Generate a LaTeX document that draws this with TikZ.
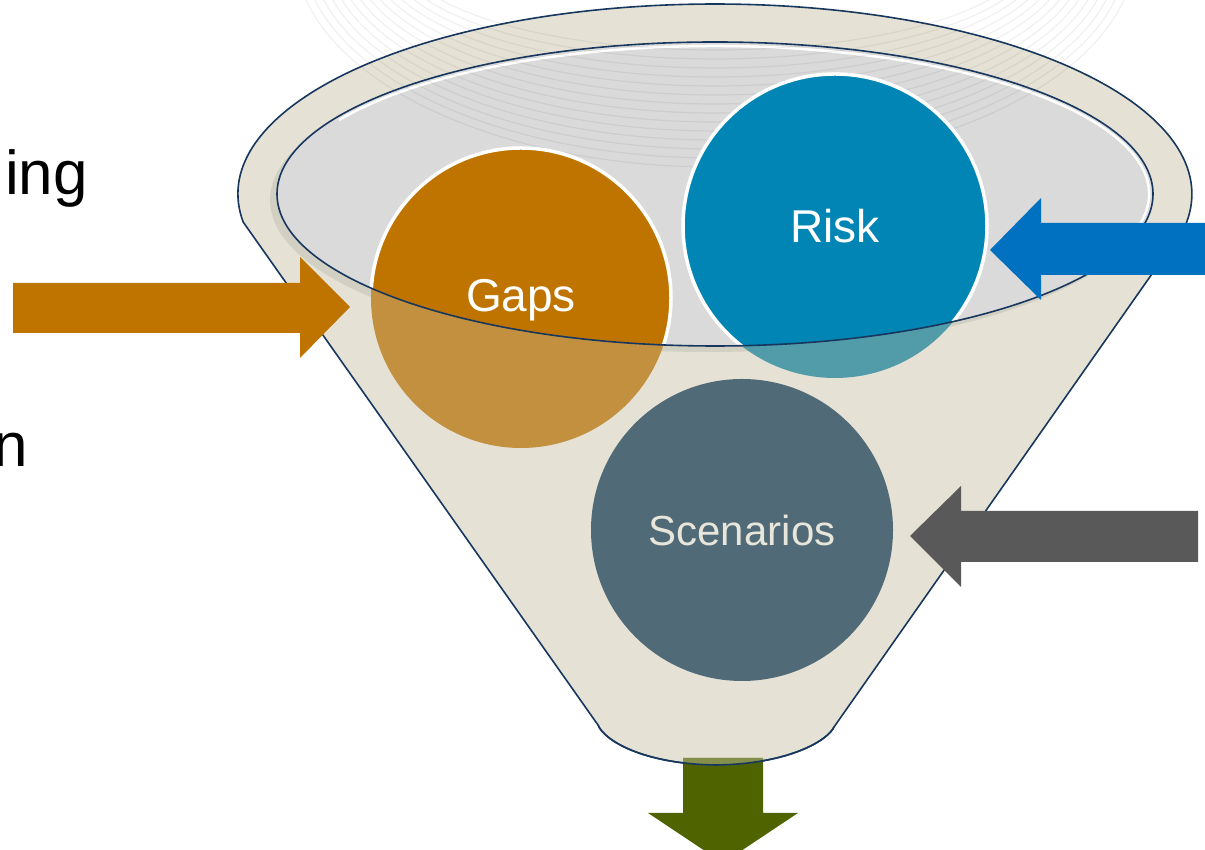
\documentclass[tikz,border=0pt]{standalone}
\usepackage{fontspec}
\setmainfont{Liberation Sans}
\definecolor{navy}{HTML}{17375E}
\definecolor{beige}{HTML}{E5E2D5}
\definecolor{shadowc}{HTML}{D2D0C3}
\definecolor{graybowl}{HTML}{DADADA}
\definecolor{gapsc}{HTML}{C07400}
\definecolor{gapsl}{HTML}{C2903F}
\definecolor{riskc}{HTML}{0085B4}
\definecolor{riskl}{HTML}{529CA9}
\definecolor{scenc}{HTML}{506A78}
\definecolor{scentext}{HTML}{E8E6DA}
\definecolor{bluearrow}{HTML}{0070C0}
\definecolor{grayarrow}{HTML}{595959}
\definecolor{greenarrow}{HTML}{4F6300}
\tikzset{
  funnelshape/.style={insert path={(243.2,627.9) arc[start angle=188.5, end angle=-10.3, x radius=477, y radius=190]
     -- (834,123) .. controls (828,110) and (790,86) .. (716,85) .. controls (642,86) and (604,110) .. (598,125) -- cycle}},
  bowlshape/.style={insert path={(715,656) ellipse[x radius=438, y radius=152]}},
  outline/.style={draw=navy, line width=1.6pt},
  circtext/.style={text=white, font=\fontsize{46}{50}\selectfont, inner sep=0pt},
  sidetext/.style={text=black, font=\fontsize{62}{66}\selectfont, inner sep=0pt, anchor=base east},
  faint/.style={draw=black, draw opacity=0.06, line width=1.2pt}
}
\begin{document}
\begin{tikzpicture}[x=1pt,y=1pt]
\useasboundingbox (0,0) rectangle (1205,850);
% faint background curves on white
\foreach \i in {0,...,13}{
  \draw[faint] (715,900) ++(180:{420-8*\i} and {217-9*\i}) arc[start angle=180, end angle=360, x radius={420-8*\i}, y radius={217-9*\i}];
}
% funnel body
\path[fill=beige, funnelshape];
% shadow of the opening
\fill[shadowc] (708,650) ellipse[x radius=438, y radius=152];
% opening
\path[fill=graybowl, bowlshape];
\draw[white, line width=2.5pt] (715,656) ++(-18:434 and 148) arc[start angle=-18, end angle=150, x radius=434, y radius=148];
% faint curves over the funnel
\begin{scope}
\path[clip, funnelshape];
\foreach \i in {0,...,13}{
  \draw[faint] (715,900) ++(180:{420-8*\i} and {217-9*\i}) arc[start angle=180, end angle=360, x radius={420-8*\i}, y radius={217-9*\i}];
}
\end{scope}
% circles
\fill[gapsl] (521,552) circle[radius=150];
\fill[riskl] (835,624) circle[radius=152];
\begin{scope}
\path[clip, bowlshape];
\fill[gapsc, draw=white, line width=3.5pt] (521,552) circle[radius=150];
\fill[riskc, draw=white, line width=3.5pt] (835,624) circle[radius=152];
\end{scope}
\fill[scenc] (742,320) circle[radius=151];
% outlines
\path[outline, funnelshape];
\path[outline, bowlshape];
% labels
\node[circtext] (gaps) at (521,550) {Gaps};
\node[circtext] (risk) at (835,624) {Risk};
\node[circtext, text=scentext, font=\fontsize{42}{46}\selectfont] (scen) at (742,320) {Scenarios};
\node[sidetext] (ing) at (88,655) {ing};
\node[sidetext] (nn) at (28,383) {n};
% arrows
\fill[gapsc] (13,567) -- (300,567) -- (300,593) -- (350,543) -- (300,492) -- (300,517) -- (13,517) -- cycle;
\fill[bluearrow] (1210,627) -- (1041,627) -- (1041,652) -- (990,600) -- (1041,550) -- (1041,575) -- (1210,575) -- cycle;
\fill[grayarrow] (1198,339) -- (961,339) -- (961,364) -- (910,314) -- (961,263) -- (961,288) -- (1198,288) -- cycle;
\fill[greenarrow] (683,92) -- (763,92) -- (763,37) -- (798,37) -- (723,-13) -- (648,37) -- (683,37) -- cycle;
\begin{scope}
\path[clip, funnelshape];
\fill[beige, opacity=0.35] (683,92) rectangle (763,37);
\end{scope}
\draw[navy, line width=1.6pt] (834,123) .. controls (828,110) and (790,86) .. (716,85) .. controls (642,86) and (604,110) .. (598,125);
\end{tikzpicture}
\end{document}
